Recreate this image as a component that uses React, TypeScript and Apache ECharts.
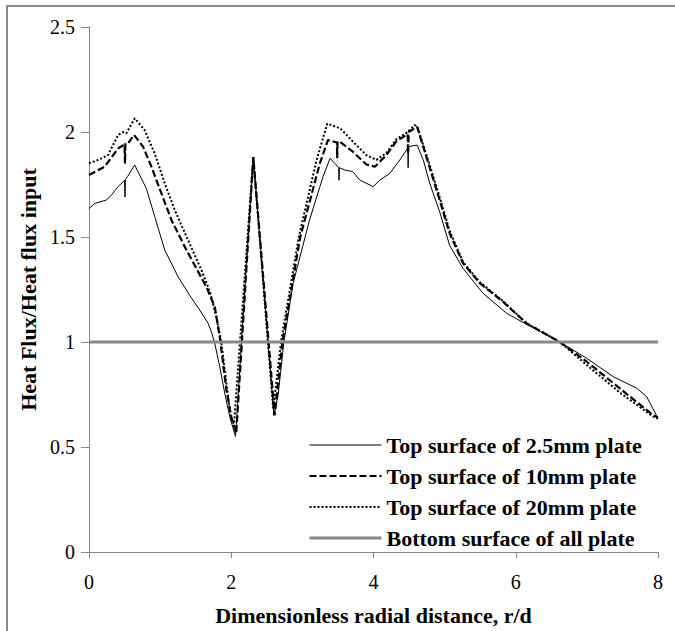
import { useEffect, useRef } from "react";
import * as echarts from "echarts";

const xTickValues = [0, 2, 4, 6, 8];
const yTickValues = [0, 0.5, 1, 1.5, 2, 2.5];

const seriesNames = [
  "Top surface of 2.5mm plate",
  "Top surface of 10mm plate",
  "Top surface of 20mm plate",
  "Bottom surface of all plate",
];

const top2_5mm: [number, number][] = [
  [0, 1.635], [0.08, 1.66], [0.245, 1.676], [0.315, 1.7], [0.41, 1.74], [0.48, 1.763],
  [0.5, 1.77], [0.506, 1.69], [0.512, 1.775], [0.54, 1.787], [0.643, 1.843], [0.807, 1.73],
  [0.924, 1.597], [1.065, 1.438], [1.252, 1.311], [1.42, 1.22], [1.557, 1.152], [1.674, 1.089],
  [1.72, 1.049], [1.768, 0.994], [1.838, 0.882], [1.909, 0.756], [1.979, 0.644], [2.06, 0.55],
  [2.31, 1.88], [2.6, 0.65], [2.66, 0.75], [2.74, 1.0], [2.87, 1.28], [3.1, 1.58],
  [3.29, 1.787], [3.39, 1.875], [3.456, 1.85], [3.51, 1.83], [3.516, 1.77], [3.522, 1.83],
  [3.596, 1.819], [3.71, 1.811], [3.807, 1.771], [3.995, 1.74], [4.09, 1.771], [4.23, 1.803],
  [4.37, 1.867], [4.464, 1.914], [4.482, 1.925], [4.487, 1.83], [4.492, 1.93], [4.613, 1.938],
  [4.7, 1.867], [4.79, 1.756], [4.93, 1.62], [5.07, 1.46], [5.26, 1.35], [5.54, 1.232],
  [5.87, 1.137], [6.17, 1.081], [6.62, 1.0], [7.0, 0.922], [7.37, 0.835], [7.7, 0.78],
  [7.84, 0.74], [7.98, 0.65],
];

const top10mm: [number, number][] = [
  [0, 1.795], [0.22, 1.835], [0.41, 1.922], [0.5, 1.94], [0.506, 1.85], [0.512, 1.945],
  [0.55, 1.946], [0.633, 1.986], [0.76, 1.93], [0.877, 1.835], [1.018, 1.708], [1.159, 1.581],
  [1.346, 1.454], [1.51, 1.35], [1.65, 1.263], [1.768, 1.168], [1.838, 1.025], [1.885, 0.899],
  [1.932, 0.771], [2.0, 0.644], [2.07, 0.565], [2.31, 1.88], [2.61, 0.652], [2.72, 1.0],
  [2.97, 1.5], [3.245, 1.85], [3.36, 1.962], [3.485, 1.95], [3.49, 1.875], [3.495, 1.955],
  [3.525, 1.954], [3.71, 1.906], [3.9, 1.845], [4.02, 1.835], [4.18, 1.89], [4.32, 1.955],
  [4.48, 1.99], [4.487, 1.898], [4.495, 2.0], [4.613, 2.025], [4.745, 1.88], [4.93, 1.676],
  [5.07, 1.518], [5.26, 1.375], [5.495, 1.28], [5.82, 1.192], [6.15, 1.089], [6.62, 1.0],
  [7.0, 0.906], [7.46, 0.78], [7.93, 0.652], [8.0, 0.64],
];

const top20mm: [number, number][] = [
  [0, 1.851], [0.127, 1.867], [0.267, 1.89], [0.41, 1.986], [0.48, 2.0], [0.525, 1.994],
  [0.643, 2.065], [0.78, 2.01], [0.924, 1.898], [1.065, 1.756], [1.205, 1.629], [1.392, 1.486],
  [1.58, 1.343], [1.7, 1.24], [1.79, 1.12], [1.862, 0.994], [1.909, 0.867], [1.955, 0.74],
  [2.0, 0.629], [2.04, 0.61], [2.31, 1.88], [2.59, 0.68], [2.7, 1.0], [2.95, 1.5],
  [3.2, 1.867], [3.35, 2.04], [3.535, 2.017], [3.71, 1.954], [3.9, 1.89], [4.04, 1.867],
  [4.18, 1.9], [4.32, 1.965], [4.48, 2.0], [4.58, 2.033], [4.62, 2.02], [4.745, 1.89],
  [4.93, 1.69], [5.07, 1.53], [5.26, 1.38], [5.495, 1.285], [5.82, 1.195], [6.15, 1.09],
  [6.62, 1.0], [7.0, 0.89], [7.46, 0.76], [7.93, 0.645], [8.0, 0.635],
];

const bottomAll: [number, number][] = [
  [0, 1], [8, 1],
];

const SERIF = "Liberation Serif";

export default function App() {
  const ref = useRef<HTMLDivElement>(null);
  useEffect(() => {
    document.body.style.margin = "0";
    const chart = echarts.init(ref.current!, null, { renderer: "svg" });
    chart.setOption({
      animation: false,
      backgroundColor: "#ffffff",
      graphic: [
        {
          type: "rect",
          z: -10,
          shape: { x: 7, y: 6, width: 1000, height: 1000 },
          style: { fill: "none", stroke: "#8c8c8c", lineWidth: 2 },
        },
      ],
      grid: { left: 89, right: 17, top: 27, bottom: 79, containLabel: false },
      xAxis: {
        type: "value",
        min: xTickValues[0],
        max: xTickValues[xTickValues.length - 1],
        interval: 2,
        name: "Dimensionless radial distance, r/d",
        nameLocation: "middle",
        nameGap: 52,
        nameTextStyle: { fontFamily: SERIF, fontSize: 22, fontWeight: "bold", color: "#000" },
        axisLine: { show: true, lineStyle: { color: "#868686", width: 1 } },
        axisTick: { show: true, length: 6, lineStyle: { color: "#868686" } },
        splitLine: { show: false },
        axisLabel: { fontFamily: SERIF, fontSize: 20, color: "#000", margin: 20 },
      },
      yAxis: {
        type: "value",
        min: yTickValues[0],
        max: yTickValues[yTickValues.length - 1],
        interval: 0.5,
        name: "Heat Flux/Heat flux input",
        nameLocation: "middle",
        nameGap: 50,
        nameTextStyle: { fontFamily: SERIF, fontSize: 22, fontWeight: "bold", color: "#000" },
        axisLine: { show: true, lineStyle: { color: "#868686", width: 1 } },
        axisTick: { show: true, length: 8, lineStyle: { color: "#868686" } },
        splitLine: { show: false },
        axisLabel: { fontFamily: SERIF, fontSize: 20, color: "#000", margin: 14 },
      },
      legend: {
        orient: "vertical",
        left: 308,
        top: 434,
        padding: 0,
        itemWidth: 72,
        itemHeight: 14,
        itemGap: 9,
        itemStyle: { opacity: 0 },
        lineStyle: { width: "inherit" },
        textStyle: { fontFamily: SERIF, fontSize: 22, fontWeight: "bold", color: "#000" },
        data: seriesNames,
      },
      series: [
        {
          name: seriesNames[0],
          type: "line",
          data: top2_5mm,
          symbol: "none",
          lineStyle: { color: "#000", width: 1, type: "solid" },
          itemStyle: { color: "#000" },
        },
        {
          name: seriesNames[1],
          type: "line",
          data: top10mm,
          symbol: "none",
          lineStyle: { color: "#000", width: 2.2, type: [7, 3] },
          itemStyle: { color: "#000" },
        },
        {
          name: seriesNames[2],
          type: "line",
          data: top20mm,
          symbol: "none",
          lineStyle: { color: "#000", width: 2, type: [2, 2] },
          itemStyle: { color: "#000" },
        },
        {
          name: seriesNames[3],
          type: "line",
          data: bottomAll,
          symbol: "none",
          lineStyle: { color: "#878787", width: 3, type: "solid" },
          itemStyle: { color: "#878787" },
        },
      ],
    });
    return () => chart.dispose();
  }, []);
  return <div ref={ref} style={{ width: 675, height: 631 }} />;
}
